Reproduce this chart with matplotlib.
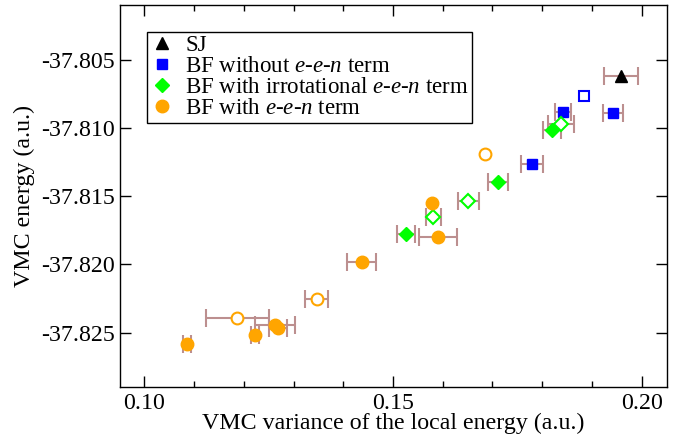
import matplotlib
matplotlib.use("Agg")
import matplotlib.pyplot as plt
from matplotlib.lines import Line2D
from matplotlib.ticker import MultipleLocator, FormatStrFormatter

plt.rcParams['font.family'] = ['Liberation Serif', 'DejaVu Serif']
plt.rcParams['mathtext.fontset'] = 'custom'
plt.rcParams['mathtext.rm'] = 'Liberation Serif'
plt.rcParams['mathtext.it'] = 'Liberation Serif:italic'
plt.rcParams['axes.unicode_minus'] = False

# SJ
sj_x = [0.1958]
sj_y = [-37.80622]
sj_err = [0.0034]

# BF without e-e-n term (filled: with error bars, open: without)
bf_x = [0.1943, 0.1841, 0.1780]
bf_y = [-37.80893, -37.80886, -37.81264]
bf_err = [0.0020, 0.0016, 0.0022]
bf_open_x = [0.1884]
bf_open_y = [-37.80769]

# BF with irrotational e-e-n term
irr_x = [0.1820, 0.1712, 0.1526]
irr_y = [-37.81015, -37.81398, -37.81776]
irr_err = [0.0018, 0.0020, 0.0018]
irr_open_x = [0.1838, 0.1651, 0.1581]
irr_open_y = [-37.80971, -37.81532, -37.81654]
irr_open_err = [0.0026, 0.0021, 0.0015]

# BF with e-e-n term
een_x = [0.1578, 0.1590, 0.1437, 0.1085, 0.1222, 0.1263, 0.1268]
een_y = [-37.81552, -37.81801, -37.81979, -37.82586, -37.82518, -37.82442, -37.82464]
een_err = [0.0, 0.0038, 0.0029, 0.0008, 0.0008, 0.0040, 0.0018]
een_open_x = [0.1686, 0.1347, 0.1187]
een_open_y = [-37.81195, -37.82252, -37.82391]
een_open_err = [0.0, 0.0023, 0.0064]

ebar = dict(fmt='none', ecolor='#bc8f8f', elinewidth=1.5, capsize=6.5, capthick=1.5, zorder=2)


def draw_err(ax, xs, ys, errs):
    # points with zero error get no bar
    keep = [i for i, e in enumerate(errs) if e > 0]
    ax.errorbar([xs[i] for i in keep], [ys[i] for i in keep],
                xerr=[errs[i] for i in keep], **ebar)


fig = plt.figure(figsize=(6.86, 4.38), dpi=100)
ax = fig.add_axes([0.1749, 0.1158, 0.9723 - 0.1749, 0.9886 - 0.1158])

draw_err(ax, sj_x, sj_y, sj_err)
draw_err(ax, bf_x, bf_y, bf_err)
draw_err(ax, irr_x, irr_y, irr_err)
draw_err(ax, irr_open_x, irr_open_y, irr_open_err)
draw_err(ax, een_x, een_y, een_err)
draw_err(ax, een_open_x, een_open_y, een_open_err)

ax.plot(sj_x, sj_y, '^', color='black', ms=8, zorder=3)
ax.plot(bf_x, bf_y, 's', color='blue', ms=7.5, zorder=3)
ax.plot(bf_open_x, bf_open_y, 's', mfc='white', mec='blue', mew=1.5, ms=7, zorder=3)
ax.plot(irr_x, irr_y, 'D', color='#00ff00', ms=7.5, zorder=3)
ax.plot(irr_open_x, irr_open_y, 'D', mfc='white', mec='#00ff00', mew=1.5, ms=7, zorder=3)
ax.plot(een_x, een_y, 'o', color='orange', ms=9, zorder=3)
ax.plot(een_open_x, een_open_y, 'o', mfc='white', mec='orange', mew=1.5, ms=8.5, zorder=3)

ax.set_xlim(0.0951, 0.2051)
ax.set_ylim(-37.829, -37.801)
ax.xaxis.set_major_locator(MultipleLocator(0.05))
ax.xaxis.set_minor_locator(MultipleLocator(0.01))
ax.yaxis.set_major_locator(MultipleLocator(0.005))
ax.xaxis.set_major_formatter(FormatStrFormatter('%.2f'))
ax.yaxis.set_major_formatter(FormatStrFormatter('%.3f'))
ax.tick_params(which='both', direction='in', top=True, right=True, labelsize=17.2)
ax.tick_params(which='major', length=8, width=1)
ax.tick_params(which='minor', length=4, width=1)
ax.tick_params(axis='x', pad=4)
ax.tick_params(axis='y', pad=4)
for s in ax.spines.values():
    s.set_linewidth(1)

ax.set_xlabel('VMC variance of the local energy (a.u.)', fontsize=17.2, labelpad=-1)
ax.set_ylabel('VMC energy (a.u.)', fontsize=17.2, labelpad=4)

handles = [
    Line2D([], [], ls='none', marker='^', color='black', ms=8),
    Line2D([], [], ls='none', marker='s', color='blue', ms=7.5),
    Line2D([], [], ls='none', marker='D', color='#00ff00', ms=7.5),
    Line2D([], [], ls='none', marker='o', color='orange', ms=9),
]
labels = ['SJ', 'BF without $e$-$e$-$n$ term',
          'BF with irrotational $e$-$e$-$n$ term', 'BF with $e$-$e$-$n$ term']
leg = ax.legend(handles, labels, loc='upper left', bbox_to_anchor=(0.05, 0.93),
                fontsize=16.5, frameon=True, fancybox=False, edgecolor='black',
                framealpha=1, borderpad=0.15, labelspacing=0.0, handlelength=1.0,
                handletextpad=0.5, borderaxespad=0)
leg.get_frame().set_linewidth(1)

fig.savefig('out.png', dpi=100)
